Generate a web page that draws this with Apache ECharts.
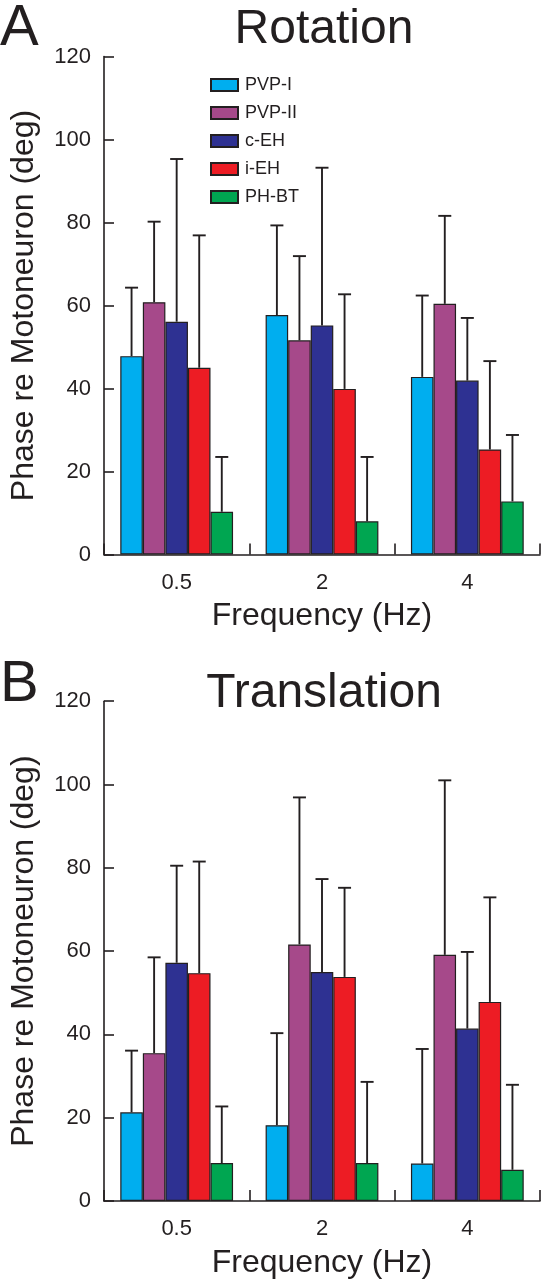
<!DOCTYPE html>
<html>
<head>
<meta charset="utf-8">
<script src="https://cdn.jsdelivr.net/npm/echarts@6/dist/echarts.min.js"></script>
<style>
html,body{margin:0;padding:0;background:#fff;}
#chart{width:542px;height:1280px;}
</style>
</head>
<body>
<div id="chart"></div>
<script>
// ---- data ----
const categories = ['0.5', '2', '4'];
const seriesNames = ['PVP-I', 'PVP-II', 'c-EH', 'i-EH', 'PH-BT'];
const yTickValues = [0, 20, 40, 60, 80, 100, 120];

// Rotation (panel A): means and SD (upper error bar length)
const rotPVP1 = [47.8, 57.7, 42.8];
const rotPVP2 = [60.8, 51.6, 60.4];
const rotCEH  = [56.1, 55.2, 41.9];
const rotIEH  = [45.0, 39.9, 25.3];
const rotPHBT = [10.3, 8.0, 12.8];
const rotPVP1sd = [16.5, 21.6, 19.6];
const rotPVP2sd = [19.4, 20.3, 21.2];
const rotCEHsd  = [39.2, 38.0, 15.1];
const rotIEHsd  = [31.9, 22.8, 21.3];
const rotPHBTsd = [13.2, 15.5, 16.0];

// Translation (panel B)
const traPVP1 = [21.3, 18.2, 9.0];
const traPVP2 = [35.5, 61.6, 59.1];
const traCEH  = [57.2, 55.0, 41.4];
const traIEH  = [54.7, 53.8, 47.8];
const traPHBT = [9.1, 9.1, 7.5];
const traPVP1sd = [14.8, 22.1, 27.5];
const traPVP2sd = [23.0, 35.3, 41.9];
const traCEHsd  = [23.3, 22.3, 18.4];
const traIEHsd  = [26.8, 21.4, 25.1];
const traPHBTsd = [13.6, 19.5, 20.4];

// ---- styles ----
const colors = ['#00AEEF', '#A6498A', '#2E3192', '#ED1C24', '#00A651'];
const ink = '#231f20';
const FONT = '"Liberation Sans", Arial, Helvetica, sans-serif';
const CAT_GAP = 0.224;

const panels = [
  { means: [rotPVP1, rotPVP2, rotCEH, rotIEH, rotPHBT],
    sds:   [rotPVP1sd, rotPVP2sd, rotCEHsd, rotIEHsd, rotPHBTsd] },
  { means: [traPVP1, traPVP2, traCEH, traIEH, traPHBT],
    sds:   [traPVP1sd, traPVP2sd, traCEHsd, traIEHsd, traPHBTsd] }
];

const grids = [
  { left: 103, right: 2, top: 56.5, height: 498 },
  { left: 103, right: 2, top: 701.2, height: 500.5 }
];

function makeX(i) {
  return {
    type: 'category', gridIndex: i, data: categories,
    axisLine: { lineStyle: { color: ink, width: 1.6 } },
    axisTick: { show: true, inside: true, length: 11, alignWithLabel: false, lineStyle: { color: ink, width: 1.6 } },
    axisLabel: { color: ink, fontSize: 22, fontFamily: FONT, margin: 17 },
    name: 'Frequency (Hz)', nameLocation: 'middle', nameGap: 46,
    nameTextStyle: { color: ink, fontSize: 32, fontFamily: FONT },
    splitLine: { show: false }
  };
}
function makeY(i) {
  return {
    type: 'value', gridIndex: i, min: 0, max: 120, interval: 20,
    axisLine: { show: true, lineStyle: { color: ink, width: 1.6 } },
    axisTick: { show: true, inside: true, length: 10, lineStyle: { color: ink, width: 1.6 } },
    axisLabel: { color: ink, fontSize: 22, fontFamily: FONT, margin: 13,
      customValues: yTickValues },
    name: 'Phase re Motoneuron (deg)', nameLocation: 'middle', nameGap: 64, nameRotate: 90,
    nameTextStyle: { color: ink, fontSize: 32, fontFamily: FONT },
    splitLine: { show: false }
  };
}

function renderErr(params, api) {
  const c = api.value(0), m = api.value(1), s = api.value(2), k = api.value(3);
  const band = api.size([1, 0])[0];
  const bw = band * (1 - CAT_GAP) / 5;
  const x = api.coord([c, 0])[0] + (k - 2) * bw;
  const y0 = api.coord([c, m])[1];
  const y1 = api.coord([c, m + s])[1];
  const cap = 6.5;
  const st = { stroke: ink, lineWidth: 1.9 };
  return {
    type: 'group',
    children: [
      { type: 'line', shape: { x1: x, y1: y0, x2: x, y2: y1 }, style: st },
      { type: 'line', shape: { x1: x - cap, y1: y1, x2: x + cap, y2: y1 }, style: st }
    ]
  };
}

const series = [];
panels.forEach((p, pi) => {
  seriesNames.forEach((nm, si) => {
    series.push({
      type: 'bar', name: nm, xAxisIndex: pi, yAxisIndex: pi,
      data: p.means[si],
      barGap: '0%', barCategoryGap: (CAT_GAP * 100) + '%',
      itemStyle: { color: colors[si], borderColor: ink, borderWidth: 1.2 },
      emphasis: { disabled: true }
    });
  });
  const errData = [];
  seriesNames.forEach((nm, si) => {
    categories.forEach((c, ci) => {
      errData.push([ci, p.means[si][ci], p.sds[si][ci], si]);
    });
  });
  series.push({
    type: 'custom', xAxisIndex: pi, yAxisIndex: pi,
    data: errData, encode: { x: 0, y: 1 },
    renderItem: renderErr, z: 5, silent: true
  });
});

const chart = echarts.init(document.getElementById('chart'), null, { renderer: 'canvas' });
chart.setOption({
  animation: false,
  backgroundColor: '#ffffff',
  grid: grids,
  xAxis: [makeX(0), makeX(1)],
  yAxis: [makeY(0), makeY(1)],
  legend: {
    data: seriesNames, orient: 'vertical', left: 210, top: 76,
    itemWidth: 27, itemHeight: 12, itemGap: 10, icon: 'rect', padding: 0,
    textStyle: { color: ink, fontSize: 18, lineHeight: 18, fontFamily: FONT, padding: [0, 0, 0, 2] }
  },
  graphic: [
    { type: 'text', left: 0, top: 0, style: { text: 'A', font: '58px ' + FONT, fill: ink } },
    { type: 'text', left: 0, top: 656, style: { text: 'B', font: '58px ' + FONT, fill: ink } },
    { type: 'text', x: 324, y: 30, style: { text: 'Rotation', font: '48px ' + FONT, fill: ink, textAlign: 'center', textVerticalAlign: 'middle' } },
    { type: 'text', x: 324, y: 694, style: { text: 'Translation', font: '48px ' + FONT, fill: ink, textAlign: 'center', textVerticalAlign: 'middle' } }
  ],
  series: series
});
</script>
</body>
</html>
